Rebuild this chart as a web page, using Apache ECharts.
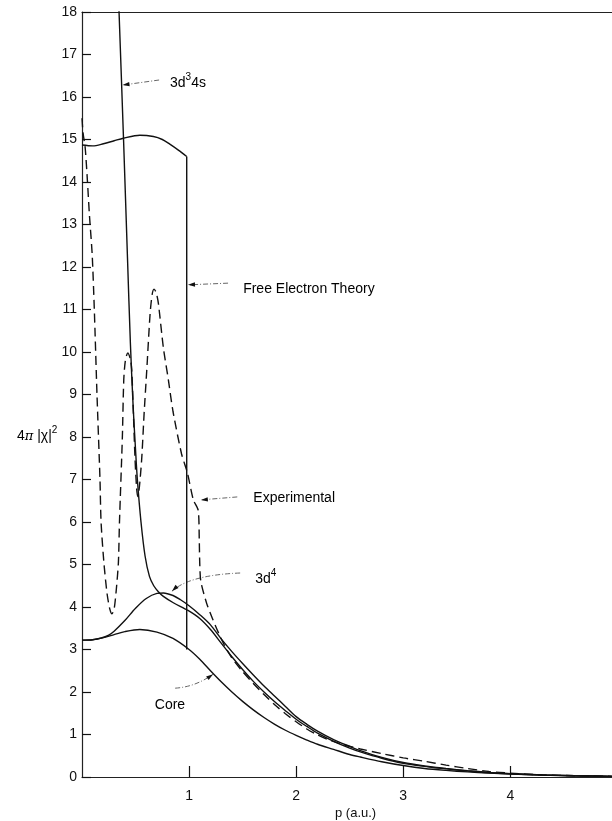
<!DOCTYPE html>
<html><head><meta charset="utf-8">
<script src="https://cdn.jsdelivr.net/npm/echarts@6/dist/echarts.min.js"></script>
<style>html,body{margin:0;padding:0;background:#fff}#c{width:612px;height:821px}</style>
</head><body><div id="c"></div>
<script>
// ---- data (p in a.u., value 4π|χ|²) ----
const xTickValues = [1, 2, 3, 4];

const coreData = [[0,3.22],[0.1,3.23],[0.2,3.28],[0.3,3.35],[0.4,3.42],[0.54,3.47],[0.7,3.41],[0.85,3.26],[1.0,3.0],[1.1,2.77],[1.2,2.5],[1.3,2.24],[1.4,2.0],[1.5,1.78],[1.6,1.58],[1.7,1.4],[1.8,1.24],[1.9,1.1],[2.0,0.98],[2.1,0.87],[2.2,0.77],[2.35,0.65],[2.5,0.53],[2.6,0.47],[2.8,0.36],[3.0,0.27],[3.2,0.2],[3.4,0.155],[3.6,0.12],[3.8,0.09],[4.0,0.07],[4.3,0.045],[4.6,0.028],[4.95,0.015]];

const d4Data = [[0,3.22],[0.1,3.23],[0.18,3.27],[0.25,3.34],[0.3,3.43],[0.4,3.68],[0.5,3.97],[0.6,4.2],[0.7,4.32],[0.76,4.33],[0.85,4.27],[0.92,4.17],[1.0,4.03],[1.1,3.82],[1.2,3.58],[1.3,3.25],[1.4,2.95],[1.5,2.67],[1.6,2.4],[1.7,2.14],[1.8,1.9],[1.9,1.66],[2.0,1.42],[2.1,1.24],[2.2,1.08],[2.35,0.88],[2.5,0.72],[2.6,0.62],[2.8,0.46],[3.0,0.34],[3.2,0.26],[3.4,0.2],[3.6,0.15],[3.8,0.11],[4.0,0.08],[4.3,0.05],[4.6,0.03],[4.95,0.015]];

const d3s4Data = [[0.3,21.2],[0.346,18],[0.388,15],[0.425,12.2],[0.452,10.2],[0.478,8.7],[0.5,7.7],[0.517,7],[0.551,6],[0.589,5.2],[0.63,4.72],[0.67,4.5],[0.713,4.36],[0.76,4.25],[0.853,4.1],[0.99,3.92],[1.1,3.73],[1.2,3.47],[1.3,3.15],[1.4,2.83],[1.5,2.53],[1.6,2.25],[1.7,2.0],[1.8,1.77],[1.9,1.56],[2.0,1.36],[2.1,1.19],[2.2,1.03],[2.35,0.84],[2.5,0.68],[2.6,0.59],[2.8,0.44],[3.0,0.32],[3.2,0.25],[3.4,0.19],[3.6,0.14],[3.8,0.1],[4.0,0.075],[4.3,0.048],[4.6,0.03],[4.95,0.015]];

const expData = [[0,15.5],[0.01,15.15],[0.03,14.8],[0.05,14.05],[0.07,13.2],[0.095,12.3],[0.115,11],[0.14,9],[0.168,7],[0.178,6],[0.206,5],[0.235,4.3],[0.26,3.95],[0.28,3.84],[0.3,3.95],[0.32,4.4],[0.34,5.05],[0.35,6],[0.377,8],[0.39,9.34],[0.405,9.8],[0.427,9.98],[0.45,9.85],[0.464,9.6],[0.48,8.56],[0.495,7.5],[0.51,6.8],[0.52,6.6],[0.535,6.8],[0.558,7.5],[0.58,8.55],[0.605,9.58],[0.636,10.9],[0.655,11.35],[0.673,11.48],[0.693,11.4],[0.713,11.15],[0.76,10.1],[0.807,9.34],[0.85,8.6],[0.93,7.6],[0.985,7.15],[1.04,6.52],[1.085,6.28],[1.095,5.6],[1.1,5.0],[1.11,4.6],[1.165,4.08],[1.22,3.72],[1.27,3.42],[1.33,3.1],[1.4,2.8],[1.5,2.48],[1.6,2.2],[1.7,1.94],[1.8,1.7],[1.9,1.49],[2.0,1.3],[2.1,1.13],[2.2,0.99],[2.3,0.88],[2.44,0.76],[2.6,0.66],[2.8,0.55],[3.0,0.45],[3.2,0.37],[3.4,0.28],[3.6,0.2],[3.8,0.13],[4.0,0.09],[4.3,0.05],[4.6,0.03],[4.95,0.015]];

const freeCurveData = [[0,14.87],[0.1,14.85],[0.2,14.9],[0.3,14.97],[0.386,15.03],[0.54,15.1],[0.667,15.07],[0.75,15.0],[0.82,14.89],[0.9,14.75],[0.978,14.6]];
const freeDropData = [[0.978,14.6],[0.978,3.0]];

// ---- annotations (data coordinates) ----
const annotations = [
  {text:'{n|3d}{s|3}{n|4s}', at:[0.822,16.4], from:[0.72,16.4], to:[0.378,16.28]},
  {text:'{n|Free Electron Theory}', at:[1.505,11.55], from:[1.364,11.62], to:[0.99,11.58]},
  {text:'{n|Experimental}', at:[1.6,6.64], from:[1.45,6.59], to:[1.11,6.52]},
  {text:'{n|3d}{s|4}', at:[1.617,4.73], from:[1.477,4.8], ctrl:[1.0,4.75], to:[0.84,4.37]},
  {text:'{n|Core}', at:[0.68,1.76], from:[0.87,2.09], ctrl:[1.06,2.12], to:[1.224,2.42]}
];

const F = '"Liberation Sans", Arial, Helvetica, sans-serif';
const chart = echarts.init(document.getElementById('c'), null, {renderer:'canvas'});
function lineSeries(name, data, extra) {
  return Object.assign({
    name, type:'line', data, symbol:'none', smooth:0.3,
    lineStyle:{color:'#111', width:1.4}, clip:true, silent:true
  }, extra || {});
}
chart.setOption({
  animation:false,
  backgroundColor:'#fff',
  grid:{left:82, right:0, top:12, bottom:44},
  xAxis:[{
    type:'value', min:0, max:4.95, interval:1,
    axisLine:{show:true, onZero:false, lineStyle:{color:'#222', width:1.2}},
    axisTick:{show:true, inside:true, length:11, customValues:xTickValues, lineStyle:{color:'#111', width:1.2}},
    axisLabel:{show:true, customValues:xTickValues, margin:12, fontFamily:F, fontSize:14, color:'#111'},
    splitLine:{show:false}
  },{
    type:'value', position:'top', min:0, max:4.95,
    axisLine:{show:true, onZero:false, lineStyle:{color:'#222', width:1.2}},
    axisTick:{show:false}, axisLabel:{show:false}, splitLine:{show:false}
  }],
  yAxis:{
    type:'value', min:0, max:18, interval:1,
    axisLine:{show:true, onZero:false, lineStyle:{color:'#222', width:1.2}},
    axisTick:{show:true, inside:true, length:9, lineStyle:{color:'#111', width:1.2}},
    axisLabel:{margin:5, fontFamily:F, fontSize:14, color:'#111'},
    splitLine:{show:false}
  },
  series:[
    lineSeries('Core', coreData),
    lineSeries('3d4', d4Data),
    lineSeries('3d34s', d3s4Data),
    lineSeries('Free Electron Theory', freeCurveData),
    lineSeries('Free Electron Theory drop', freeDropData, {smooth:false}),
    lineSeries('Experimental', expData, {lineStyle:{color:'#111', width:1.4, type:[9,5]}, smooth:0.25})
  ]
});

// ---- graphic annotations ----
const rich = {
  n:{fontFamily:F, fontSize:14, color:'#111', verticalAlign:'bottom', lineHeight:20},
  s:{fontFamily:F, fontSize:10, color:'#111', verticalAlign:'bottom', lineHeight:20, padding:[0,0,8,0]},
  i:{fontFamily:'"DejaVu Serif", serif', fontStyle:'italic', fontSize:13, color:'#111', verticalAlign:'bottom', lineHeight:20}
};
const px = p => chart.convertToPixel({gridIndex:0}, p);
const graphics = [];
const leaderStyle = {stroke:'#555', lineWidth:0.9, lineDash:[5,2,1,2], fill:null};
annotations.forEach(a => {
  const t = px(a.at), f = px(a.from), e = px(a.to);
  graphics.push({type:'text', x:t[0], y:t[1], style:{text:a.text, rich, verticalAlign:'middle', align:'left'}});
  let dirFrom;
  if (a.ctrl) {
    const c = px(a.ctrl);
    graphics.push({type:'bezierCurve', shape:{x1:f[0], y1:f[1], x2:e[0], y2:e[1], cpx1:c[0], cpy1:c[1]}, style:leaderStyle});
    dirFrom = c;
  } else {
    graphics.push({type:'line', shape:{x1:f[0], y1:f[1], x2:e[0], y2:e[1]}, style:leaderStyle});
    dirFrom = f;
  }
  const dx = e[0]-dirFrom[0], dy = e[1]-dirFrom[1], L = Math.hypot(dx,dy);
  const ux = dx/L, uy = dy/L, len = 7, w = 2.2;
  graphics.push({type:'polygon', shape:{points:[[e[0],e[1]],[e[0]-ux*len-uy*w, e[1]-uy*len+ux*w],[e[0]-ux*len+uy*w, e[1]-uy*len-ux*w]]}, style:{fill:'#111'}});
});
// y-axis title 4π|χ|² and x-axis title
graphics.push({type:'text', x:17, y:433, style:{text:'{n|4}{i|π}{n| |χ|}{s|2}', rich, verticalAlign:'middle', align:'left'}});
graphics.push({type:'text', x:335, y:813, style:{text:'p (a.u.)', fontFamily:F, fontSize:13, fill:'#111', verticalAlign:'middle', align:'left'}});
chart.setOption({graphic:graphics});
</script></body></html>
